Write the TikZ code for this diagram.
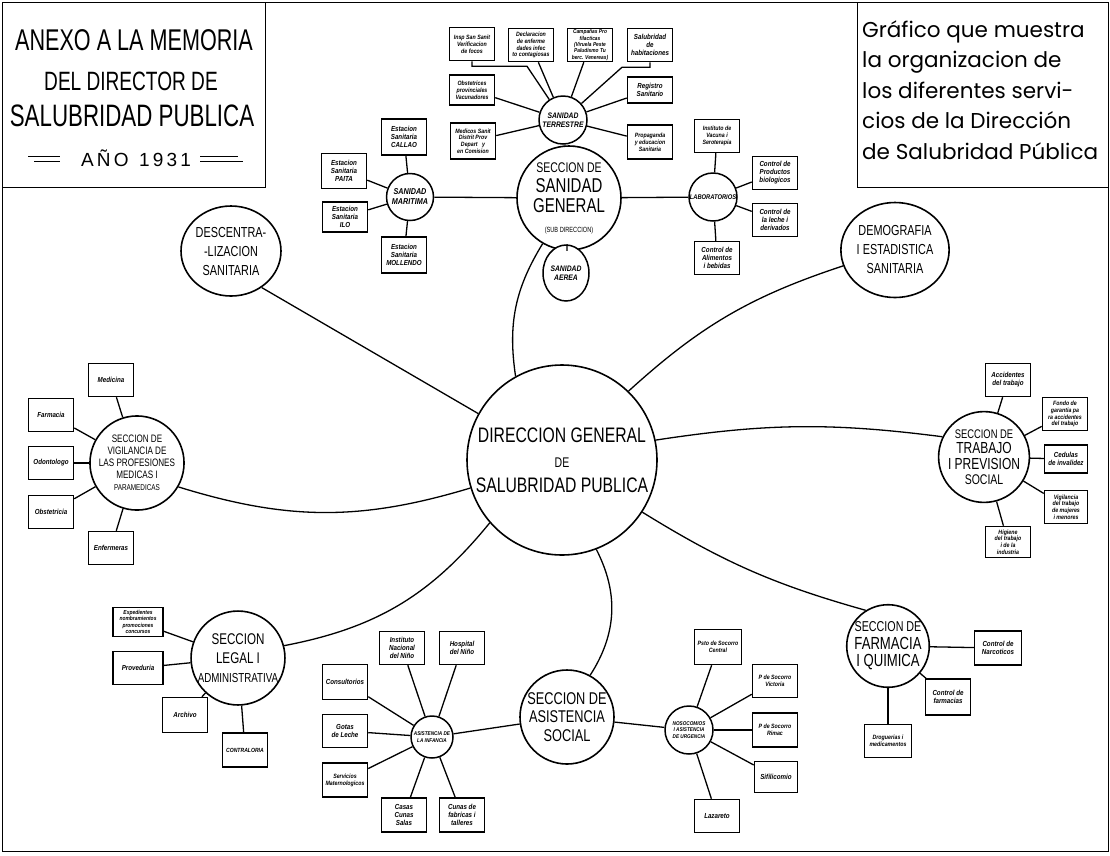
\documentclass[tikz,border=0pt]{standalone}
\usepackage{fontspec}
\setmainfont{Liberation Sans}
\newfontfamily\condfont[FakeStretch=0.75]{Liberation Sans}
\newfontfamily\titlefont[FakeStretch=0.72]{Liberation Sans}
\newfontfamily\boxfont[FakeStretch=0.85]{Liberation Sans}
\newfontfamily\roundfont{Poppins}
\usetikzlibrary{shapes.geometric}
\newcommand{\lsz}[2]{{\fontsize{#1}{#1}\selectfont #2}}

\begin{document}
\begin{tikzpicture}[x=1pt,y=-1pt,
  sbox/.style={draw,line width=1.5pt,fill=white,minimum width=45pt,minimum height=33pt,inner sep=1pt,align=center,font=\boxfont\bfseries\itshape\fontsize{7.3}{8}\selectfont},
  sboxs/.style={sbox,font=\boxfont\bfseries\itshape\fontsize{6.2}{6.8}\selectfont},
  subcirc/.style={circle,draw,line width=1.5pt,fill=white,minimum size=48pt,inner sep=0pt,align=center,font=\boxfont\bfseries\itshape\fontsize{8}{9.5}\selectfont},
  seccirc/.style={circle,draw,line width=1.6pt,fill=white,inner sep=0pt,align=center},
  secell/.style={ellipse,draw,line width=1.6pt,fill=white,inner sep=0pt,align=center},
  link/.style={line width=1.3pt},
  frame/.style={draw,line width=1pt}]
  \useasboundingbox (0,0) rectangle (1110,855);
  \draw[frame] (2,2) rectangle (1108,851);

  \node[frame,anchor=north west,minimum width=263pt,minimum height=185pt] (ttl) at (2,2) {};
  \node[font=\titlefont\fontsize{30}{30}\selectfont] (ttl1) at (134,40) {ANEXO A LA MEMORIA};
  \node[font=\titlefont\fontsize{26.5}{26.5}\selectfont] (ttl2) at (131,81) {DEL DIRECTOR DE};
  \node[font=\titlefont\fontsize{31}{31}\selectfont] (ttl3) at (132,116) {SALUBRIDAD PUBLICA};
  \node[font=\fontsize{19}{19}\selectfont] (ttl4) at (136,158) {A\,Ñ\,O\ \ 1\,9\,3\,1};
  \draw[line width=1pt] (28,156) -- (60,156) (34,161) -- (60,161);
  \draw[line width=1pt] (200,156) -- (238,156) (200,161) -- (243,161);

  \node[frame,anchor=north west,minimum width=251pt,minimum height=185pt] (sub) at (857,2) {};
  \node[anchor=north west,align=left,inner sep=0pt,font=\roundfont\fontsize{21.5}{30.5}\selectfont] (subtxt) at (862,20)
    {Gráfico que muestra\\la organizacion de\\los diferentes servi-\\cios de la Dirección\\de Salubridad Pública};

  \node[seccirc,minimum size=190pt,font=\condfont\fontsize{21}{25}\selectfont] (dir) at (562,460)
    {DIRECCION GENERAL\\\lsz{14}{DE}\\SALUBRIDAD PUBLICA};

  \node[seccirc,minimum size=104pt,font=\condfont\fontsize{20}{20}\selectfont] (sg) at (569,198)
    {\lsz{14}{SECCION DE}\\SANIDAD\\GENERAL\\\lsz{7.5}{(SUB DIRECCION)}};
  \node[subcirc] (ter) at (563,120) {SANIDAD\\TERRESTRE};
  \node[subcirc,minimum size=47pt,font=\boxfont\bfseries\itshape\fontsize{8.5}{10}\selectfont] (mar) at (410,197) {SANIDAD\\MARITIMA};
  \node[subcirc,font=\boxfont\bfseries\itshape\fontsize{6.8}{8}\selectfont] (lab) at (713,197) {LABORATORIOS};
  \node[subcirc,ellipse,minimum width=46pt,minimum height=56pt] (aer) at (566,273) {SANIDAD\\AEREA};

  \node[sboxs] (t1) at (472,44) {Insp San Sanit\\Verificacion\\de focos};
  \node[sboxs] (t2) at (531,45) {Declaracion\\de enferme\\dades infec\\to contagiosas};
  \node[sboxs,font=\boxfont\bfseries\itshape\fontsize{5.7}{6.3}\selectfont] (t3) at (590,45) {Campañas Pro\\filacticas\\(Viruela Peste\\Paludismo Tu\\berc. Venereas)};
  \node[sbox] (t4) at (650,45) {Salubridad\\de\\habitaciones};
  \node[sboxs,minimum height=30pt] (t5) at (472,90) {Obstetrices\\provinciales\\Vacunadores};
  \node[sbox,minimum height=26pt] (t6) at (650,90) {Registro\\Sanitario};
  \node[sboxs,minimum height=36pt] (t7) at (473,141) {Medicos Sanit\\Distrit Prov\\Depart \ \ y\\en Comision};
  \node[sboxs,minimum height=34pt] (t8) at (650,142) {Propaganda\\y educacion\\Sanitaria};

  \node[sbox,minimum height=36pt] (m1) at (404,137) {Estacion\\Sanitaria\\CALLAO};
  \node[sbox,minimum height=35pt] (m2) at (344,171) {Estacion\\Sanitaria\\PAITA};
  \node[sbox,minimum height=30pt] (m3) at (345,217) {Estacion\\Sanitaria\\ILO};
  \node[sbox,minimum height=36pt] (m4) at (404,255) {Estacion\\Sanitaria\\MOLLENDO};

  \node[sboxs] (l1) at (717,136) {Instituto de\\Vacuna i\\Seroterapia};
  \node[sbox] (l2) at (775,173) {Control de\\Productos\\biologicos};
  \node[sbox] (l3) at (775,220) {Control de\\la leche i\\derivados};
  \node[sbox] (l4) at (717,258) {Control de\\Alimentos\\i bebidas};

  \node[secell,minimum width=82pt,minimum height=90pt,font=\condfont\fontsize{14.5}{19}\selectfont] (desc) at (231,251)
    {DESCENTRA-\\-LIZACION\\SANITARIA};
  \node[secell,minimum width=86pt,minimum height=95pt,font=\condfont\fontsize{14.5}{19}\selectfont] (dem) at (895,250)
    {DEMOGRAFIA\\I ESTADISTICA\\SANITARIA};

  \node[seccirc,minimum size=80pt,font=\condfont\fontsize{10.8}{12}\selectfont] (prof) at (137,463)
    {SECCION DE\\VIGILANCIA DE\\LAS PROFESIONES\\MEDICAS I\\\lsz{8.5}{PARAMEDICAS}};
  \node[sbox] (p1) at (111,380) {Medicina};
  \node[sbox] (p2) at (51,415) {Farmacia};
  \node[sbox] (p3) at (51,463) {Odontologo};
  \node[sbox] (p4) at (51,512) {Obstetricia};
  \node[sbox] (p5) at (111,548) {Enfermeras};

  \node[seccirc,minimum size=78pt,font=\condfont\fontsize{16}{15.5}\selectfont] (trab) at (984,457)
    {\lsz{12.5}{SECCION DE}\\TRABAJO\\I PREVISION\\\lsz{14}{SOCIAL}};
  \node[sbox] (w1) at (1008,380) {Accidentes\\del trabajo};
  \node[sboxs] (w2) at (1065,414) {Fondo de\\garantia pa\\ra accidentes\\del trabajo};
  \node[sbox,minimum width=43pt,minimum height=28pt] (w3) at (1066,459) {Cedulas\\de invalidez};
  \node[sboxs,minimum width=43pt] (w4) at (1066,507) {Vigilancia\\del trabajo\\de mujeres\\i menores};
  \node[sboxs,minimum height=31pt] (w5) at (1008,542) {Higiene\\del trabajo\\i de la\\industria};

  \node[seccirc,minimum size=82pt,font=\condfont\fontsize{14}{19}\selectfont] (leg) at (238,658)
    {\lsz{15.5}{SECCION}\\\lsz{15.5}{LEGAL I}\\\lsz{13}{ADMINISTRATIVA}};
  \node[sboxs,minimum width=50pt,minimum height=29pt,font=\boxfont\bfseries\itshape\fontsize{5.8}{6.3}\selectfont] (g1) at (138,622) {Expedientes\\nombramientos\\promociones\\concursos};
  \node[sbox,minimum width=50pt] (g2) at (138,668) {Proveduria};
  \node[sbox,minimum height=35pt] (g3) at (185,715) {Archivo};
  \node[sbox,minimum height=34pt,font=\boxfont\bfseries\itshape\fontsize{6}{6.5}\selectfont] (g4) at (245,750) {CONTRALORIA};

  \node[seccirc,minimum size=94pt,font=\condfont\fontsize{17}{18.5}\selectfont] (asis) at (567,717)
    {SECCION DE\\ASISTENCIA\\SOCIAL};
  \node[subcirc,minimum size=42pt,font=\boxfont\bfseries\itshape\fontsize{5.5}{6.5}\selectfont] (inf) at (432,737)
    {ASISTENCIA DE\\LA INFANCIA};
  \node[sbox] (i1) at (402,648) {Instituto\\Nacional\\del Niño};
  \node[sbox] (i2) at (462,648) {Hospital\\del Niño};
  \node[sbox,minimum height=35pt] (i3) at (345,682) {Consultorios};
  \node[sbox] (i4) at (345,731) {Gotas\\de Leche};
  \node[sboxs,minimum height=34pt] (i5) at (345,780) {Servicios\\Maternologicos};
  \node[sbox,minimum height=34pt] (i6) at (404,815) {Casas\\Cunas\\Salas};
  \node[sbox,minimum height=34pt] (i7) at (462,815) {Cunas de\\fabricas i\\talleres};

  \node[subcirc,font=\boxfont\bfseries\itshape\fontsize{5.5}{6.5}\selectfont] (nos) at (689,730)
    {NOSOCOMIOS\\I ASISTENCIA\\DE URGENCIA};
  \node[sboxs,minimum width=47pt,minimum height=35pt] (n1) at (718,647) {Psto de Socorro\\Central};
  \node[sboxs] (n2) at (775,681) {P de Socorro\\Victoria};
  \node[sboxs,minimum height=34pt] (n3) at (775,730) {P de Socorro\\Rimac};
  \node[sbox,minimum width=43pt,minimum height=31pt] (n4) at (776,777) {Sifilicomio};
  \node[sbox] (n5) at (717,816) {Lazareto};

  \node[seccirc,minimum size=82pt,font=\condfont\fontsize{17.5}{17.5}\selectfont] (farm) at (888,646)
    {\lsz{14.3}{SECCION DE}\\FARMACIA\\I QUIMICA};
  \node[sbox,minimum width=47pt,minimum height=34pt] (f1) at (998,648) {Control de\\Narcoticos};
  \node[sbox,minimum height=36pt] (f2) at (948,697) {Control de\\farmacias};
  \node[sboxs,minimum width=47pt] (f3) at (888,741) {Droguerias i\\medicamentos};

  \draw[link] (t1.south) -- ++(0,5) -- ++(55,0) -- (ter);
  \draw[link] (t2) -- (ter);
  \draw[link] (t3) -- (ter);
  \draw[link] (t4.south) -- ++(0,5) -- ++(-28,0) -- (ter);
  \draw[link] (t5) -- (ter);
  \draw[link] (t6) -- (ter);
  \draw[link] (t7) -- (ter);
  \draw[link] (t8) -- (ter);
  \draw[link] (ter) -- (sg);
  \draw[link] (sg) -- (aer);
  \draw[link] (mar) -- (sg);
  \draw[link] (sg) -- (lab);
  \draw[link] (m1) -- (mar);
  \draw[link] (m2) -- (mar);
  \draw[link] (m3) -- (mar);
  \draw[link] (m4) -- (mar);
  \draw[link] (l1) -- (lab);
  \draw[link] (l2) -- (lab);
  \draw[link] (l3) -- (lab);
  \draw[link] (l4) -- (lab);

  \draw[link] (p1) -- (prof);
  \draw[link] (p2) -- (prof);
  \draw[link] (p3) -- (prof);
  \draw[link] (p4) -- (prof);
  \draw[link] (p5) -- (prof);
  \draw[link] (w1) -- (trab);
  \draw[link] (w2) -- (trab);
  \draw[link] (w3) -- (trab);
  \draw[link] (w4) -- (trab);
  \draw[link] (w5) -- (trab);
  \draw[link] (g1) -- (leg);
  \draw[link] (g2) -- (leg);
  \draw[link] (g3) -- (leg);
  \draw[link] (g4) -- (leg);
  \draw[link] (i1) -- (inf);
  \draw[link] (i2) -- (inf);
  \draw[link] (i3) -- (inf);
  \draw[link] (i4) -- (inf);
  \draw[link] (i5) -- (inf);
  \draw[link] (i6) -- (inf);
  \draw[link] (i7) -- (inf);
  \draw[link] (inf) -- (asis);
  \draw[link] (asis) -- (nos);
  \draw[link] (n1) -- (nos);
  \draw[link] (n2) -- (nos);
  \draw[link] (n3) -- (nos);
  \draw[link] (n4) -- (nos);
  \draw[link] (n5) -- (nos);
  \draw[link] (f1) -- (farm);
  \draw[link] (f2) -- (farm);
  \draw[link] (f3) -- (farm);

  \draw[link] (sg.240) to[bend right=20] (dir.119);
  \draw[link] (desc.-50) -- (dir.151);
  \draw[link] (dem.197) to[bend right=12] (dir.46);
  \draw[link] (prof.-30) to[bend right=17] (dir.197);
  \draw[link] (dir.12) to[bend left=8] (trab.154);
  \draw[link] (leg.15) to[bend right=20] (dir.221);
  \draw[link] (dir.-33) to[bend right=8] (farm.122);
  \draw[link] (dir.-69) to[bend left=30] (asis.61);
\end{tikzpicture}
\end{document}
